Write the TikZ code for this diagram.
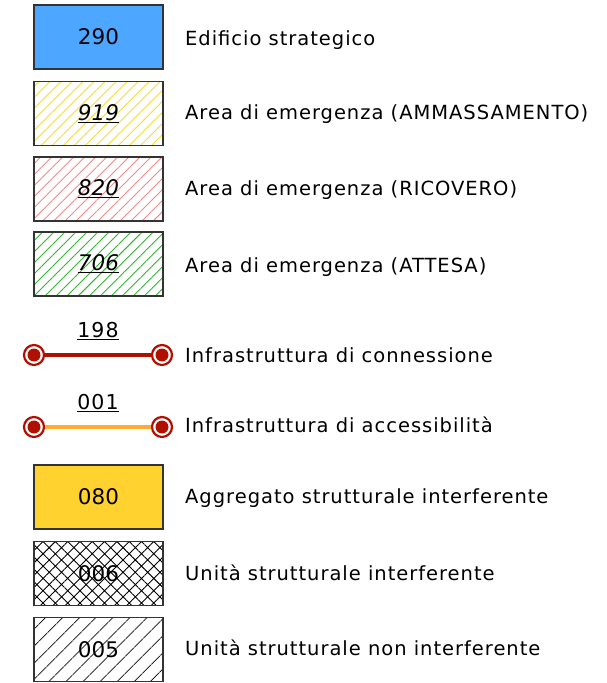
\documentclass[tikz,border=0pt]{standalone}
\usepackage{fontspec}
\setmainfont{DejaVu Sans}
\usetikzlibrary{patterns.meta}

\definecolor{strategico}{HTML}{4DA6FF}
\definecolor{ammass}{HTML}{F2DE33}
\definecolor{ricovero}{HTML}{F08A8A}
\definecolor{attesa}{HTML}{2FB52F}
\definecolor{connred}{HTML}{B01000}
\definecolor{accorange}{HTML}{FFAA33}
\definecolor{aggregato}{HTML}{FFD230}
\definecolor{bordo}{HTML}{333333}

\begin{document}
\begin{tikzpicture}[
    x=1pt, y=-1pt,
    every node/.style={font=\fontsize{19.5}{22}\selectfont\addfontfeature{LetterSpace=5}},
    box/.style={draw=bordo, line width=1.3pt, minimum width=129pt, minimum height=64pt,
        inner sep=0pt, font=\fontsize{21.5}{24}\selectfont},
    hatchbox/.style={box, pattern={Lines[angle=45,distance=#1,line width=0.9pt]}},
    lbl/.style={anchor=west, inner sep=0pt, text height=14pt, text depth=4pt},
    pin/.style={circle, draw=connred, line width=2.2pt, fill=white, minimum size=20pt,
        inner sep=0pt, path picture={\fill[connred] (path picture bounding box.center) circle (6.5pt);}},
    numlbl/.style={inner sep=0pt, font=\fontsize{20.5}{22}\selectfont\addfontfeature{LetterSpace=5}}
]
\useasboundingbox (0,0) rectangle (606,683);

% Edificio strategico
\node[box, fill=strategico] (b290) at (98.5,37) {290};
\node[lbl] (t290) at (185,40) {Edificio strategico};

% Aree di emergenza
\node[hatchbox=7.8pt, pattern color=ammass] (b919) at (98.5,113.5) {\underline{\textit{919}}};
\node[lbl] (t919) at (185,114) {Area di emergenza (AMMASSAMENTO)};
\node[hatchbox=7.8pt, pattern color=ricovero] (b820) at (98.5,189) {\underline{\textit{820}}};
\node[lbl] (t820) at (185,190) {Area di emergenza (RICOVERO)};
\node[hatchbox=7.8pt, pattern color=attesa] (b706) at (98.5,264) {\underline{\textit{706}}};
\node[lbl] (t706) at (185,267) {Area di emergenza (ATTESA)};

% Infrastrutture
\node[pin] (c198a) at (34,355) {};
\node[pin] (c198b) at (162,355) {};
\draw[connred, line width=3.5pt] (c198a) -- (c198b);
\node[numlbl] (n198) at (98,331) {\underline{198}};
\node[lbl] (t198) at (185,357) {Infrastruttura di connessione};

\node[pin] (c001a) at (34,427) {};
\node[pin] (c001b) at (162,427) {};
\draw[accorange, line width=3.5pt] (c001a) -- (c001b);
\node[numlbl] (n001) at (98,403) {\underline{001}};
\node[lbl] (t001) at (185,427) {Infrastruttura di accessibilità};

% Aggregati e unita'
\node[box, fill=aggregato] (b080) at (98.5,497) {080};
\node[lbl] (t080) at (185,498) {Aggregato strutturale interferente};
\node[box, pattern={Hatch[angle=45,distance=8.7pt,line width=0.9pt]}, pattern color=black]
    (b006) at (98.5,573.5) {006};
\node[lbl] (t006) at (185,575) {Unità strutturale interferente};
\node[hatchbox=13pt, pattern color=black] (b005) at (98.5,649.5) {005};
\node[lbl] (t005) at (185,650) {Unità strutturale non interferente};
\end{tikzpicture}
\end{document}
